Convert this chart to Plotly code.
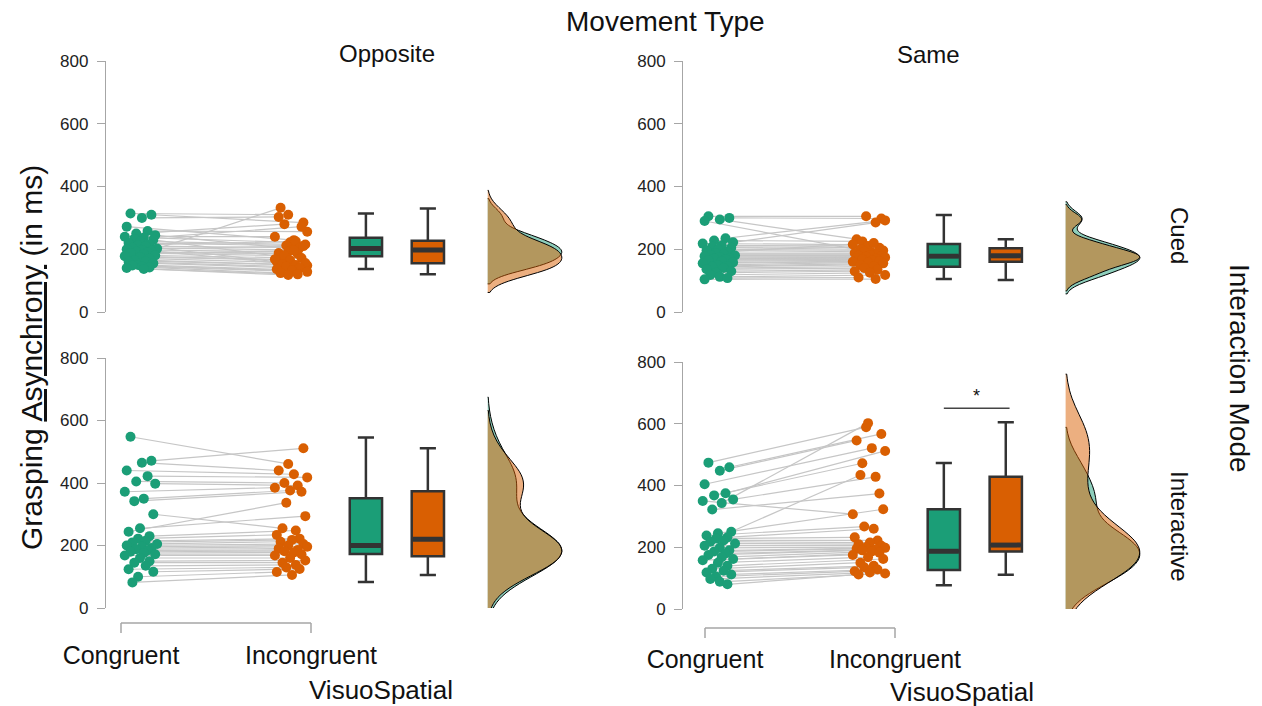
import plotly.graph_objects as go

# ---------------- data ----------------
CATEGORIES = ["Congruent", "Incongruent"]
MOVEMENT = ["Opposite", "Same"]
INTERACTION = ["Cued", "Interactive"]

# paired values (ms), same subject order within a panel
opp_cued_congruent = [314, 310, 300, 272, 258, 250, 245, 240, 237, 233, 230, 225, 220, 215, 212, 210,
                      205, 202, 200, 198, 195, 192, 190, 188, 185, 180, 178, 175, 170, 166, 162, 160,
                      155, 150, 148, 145, 142, 140, 137]
opp_cued_incongruent = [310, 285, 303, 229, 256, 280, 200, 240, 222, 272, 176, 215, 212, 225, 160, 205,
                        198, 332, 210, 192, 148, 188, 185, 180, 196, 172, 168, 165, 156, 152, 150, 145,
                        140, 136, 132, 128, 124, 120, 118]

same_cued_congruent = [305, 300, 295, 290, 235, 228, 222, 218, 212, 208, 205, 200, 196, 192, 188, 185,
                       182, 180, 178, 175, 172, 170, 168, 165, 162, 158, 155, 150, 147, 144, 140, 136,
                       130, 125, 118, 112, 108, 104]
same_cued_incongruent = [305, 298, 232, 190, 292, 225, 285, 215, 210, 205, 200, 196, 192, 220, 188, 185,
                         182, 180, 178, 176, 174, 172, 170, 168, 165, 162, 160, 158, 155, 150, 145, 140,
                         135, 130, 125, 118, 110, 105]

opp_inter_congruent = [548, 471, 465, 440, 422, 405, 398, 372, 350, 342, 300, 255, 244, 230, 222, 215,
                       210, 205, 200, 196, 192, 188, 184, 180, 176, 172, 168, 160, 150, 145, 135, 124,
                       116, 100, 82]
opp_inter_incongruent = [461, 511, 440, 428, 418, 400, 392, 385, 376, 372, 255, 294, 337, 248, 234, 222,
                         218, 212, 205, 200, 196, 190, 186, 182, 178, 172, 168, 160, 152, 145, 138, 130,
                         125, 115, 106]

same_inter_congruent = [474, 459, 448, 404, 375, 368, 355, 350, 343, 322, 250, 245, 238, 232, 228, 222,
                        218, 212, 205, 198, 190, 186, 180, 175, 168, 162, 158, 150, 140, 130, 124, 118,
                        112, 105, 97, 88, 80]
same_inter_incongruent = [589, 567, 546, 521, 512, 472, 428, 307, 602, 374, 434, 323, 267, 260, 232, 222,
                          215, 210, 205, 200, 198, 195, 192, 190, 186, 182, 175, 168, 162, 150, 140, 135,
                          128, 122, 118, 115, 112]

# box statistics [Congruent, Incongruent]
opp_cued_box = dict(lower=[137, 120], q1=[178, 155], med=[202, 198], q3=[237, 227], upper=[314, 330])
same_cued_box = dict(lower=[105, 102], q1=[144, 160], med=[178, 179], q3=[217, 203], upper=[309, 232])
opp_inter_box = dict(lower=[83, 106], q1=[173, 166], med=[200, 220], q3=[351, 374], upper=[546, 511])
same_inter_box = dict(lower=[77, 111], q1=[126, 186], med=[187, 207], q3=[323, 428], upper=[473, 605])

# fixed jitter offsets for the dots
jitter_congruent = [0.05, 0.16, 0.11, 0.03, 0.14, 0.08, 0.18, 0.02, 0.12, 0.07, 0.17, 0.10, 0.04, 0.15,
                    0.09, 0.13, 0.06, 0.19, 0.03, 0.11, 0.16, 0.08, 0.14, 0.05, 0.12, 0.18, 0.02, 0.10,
                    0.15, 0.07, 0.13, 0.04, 0.17, 0.09, 0.06, 0.11, 0.15, 0.03, 0.12, 0.08]
jitter_incongruent = [0.12, 0.04, 0.17, 0.09, 0.02, 0.14, 0.07, 0.19, 0.11, 0.05, 0.15, 0.03, 0.13, 0.08,
                      0.18, 0.06, 0.10, 0.16, 0.04, 0.12, 0.02, 0.17, 0.07, 0.14, 0.09, 0.05, 0.19, 0.11,
                      0.03, 0.15, 0.08, 0.13, 0.06, 0.18, 0.10, 0.02, 0.16, 0.07, 0.12, 0.04]

Y_TICKS = [0, 200, 400, 600, 800]

# ---------------- style ----------------
GREEN = "#1b9e77"
ORANGE = "#d95f02"
GREEN_FILL = "rgba(27,158,119,0.5)"
ORANGE_FILL = "rgba(217,95,2,0.5)"
FONT = "Liberation Sans, Arial, sans-serif"
AX_GREY = "#a6a6a6"
BOX_LINE = "#333333"

BOX_X = [2.289, 2.615]
BOX_W = 0.17
DENS_X = 2.93

panels = [
    dict(cong=opp_cued_congruent, inc=opp_cued_incongruent, box=opp_cued_box, ax="", shift=0.0),
    dict(cong=same_cued_congruent, inc=same_cued_incongruent, box=same_cued_box, ax="2", shift=-0.032),
    dict(cong=opp_inter_congruent, inc=opp_inter_incongruent, box=opp_inter_box, ax="3", shift=0.0),
    dict(cong=same_inter_congruent, inc=same_inter_incongruent, box=same_inter_box, ax="4", shift=-0.032),
]

fig = go.Figure()

for p in panels:
    xa = "x" + p["ax"]
    ya = "y" + p["ax"]
    s = p["shift"]
    n = len(p["cong"])
    xc = [1 + s + jitter_congruent[i] for i in range(n)]
    xi = [2 + s - jitter_incongruent[i] for i in range(n)]
    # connecting lines
    lx, ly = [], []
    for i in range(n):
        lx += [xc[i], xi[i], None]
        ly += [p["cong"][i], p["inc"][i], None]
    fig.add_trace(go.Scatter(x=lx, y=ly, mode="lines", xaxis=xa, yaxis=ya,
                             line=dict(color="#c6c6c6", width=1.2), hoverinfo="skip"))
    fig.add_trace(go.Scatter(x=xc, y=p["cong"], mode="markers", xaxis=xa, yaxis=ya,
                             marker=dict(color=GREEN, size=10, line=dict(width=0))))
    fig.add_trace(go.Scatter(x=xi, y=p["inc"], mode="markers", xaxis=xa, yaxis=ya,
                             marker=dict(color=ORANGE, size=10, line=dict(width=0))))
    # boxes
    b = p["box"]
    for k, col in enumerate([GREEN, ORANGE]):
        bx = BOX_X[k] + s
        fig.add_trace(go.Box(x=[bx], q1=[b["q1"][k]], median=[b["med"][k]], q3=[b["q3"][k]],
                             lowerfence=[b["lower"][k]], upperfence=[b["upper"][k]],
                             xaxis=xa, yaxis=ya, width=BOX_W, whiskerwidth=0.5,
                             fillcolor=col, line=dict(color=BOX_LINE, width=2.5),
                             boxpoints=False))
        # thick median bar
        fig.add_trace(go.Scatter(x=[bx - BOX_W / 2 + 0.006, bx + BOX_W / 2 - 0.006],
                                 y=[b["med"][k], b["med"][k]], mode="lines", xaxis=xa, yaxis=ya,
                                 line=dict(color=BOX_LINE, width=5), hoverinfo="skip"))
    # densities (half violins)
    for vals, fillc in [(p["cong"], GREEN_FILL), (p["inc"], ORANGE_FILL)]:
        fig.add_trace(go.Violin(y=vals, x0=DENS_X + s, xaxis=xa, yaxis=ya, side="positive",
                                width=0.78, scalegroup="g" + p["ax"], scalemode="width",
                                points=False, box_visible=False, meanline_visible=False,
                                fillcolor=fillc, line=dict(color="black", width=1),
                                opacity=1))

# significance marker (Same / Interactive)
SIG_SHIFT = -0.032
fig.add_trace(go.Scatter(x=[BOX_X[0] + SIG_SHIFT, BOX_X[1] + 0.02 + SIG_SHIFT], y=[650, 650], mode="lines",
                         xaxis="x4", yaxis="y4", line=dict(color="#444", width=1.5), hoverinfo="skip"))

PX_PER_UNIT = 190.0
X_SPAN = 2.45
# left panels: y-axis line at 105.8 px, category 1 at 121 px
# right panels: y-axis line at 683 px, category 1 at 705 px
x_cfg = {
    "": (105.8, 121.0), "3": (105.8, 121.0),
    "2": (683.0, 705.0), "4": (683.0, 705.0),
}
y_dom = {
    "": [1 - 312 / 706, 1 - 61 / 706],
    "2": [1 - 312 / 706, 1 - 61 / 706],
    "3": [1 - 608 / 706, 1 - 358 / 706],
    "4": [1 - 609 / 706, 1 - 362 / 706],
}
x_ticklen = {"": 25, "2": 25, "3": 25, "4": 28}

layout = dict(
    width=1262, height=706, margin=dict(l=0, r=0, t=0, b=0, autoexpand=False),
    paper_bgcolor="white", plot_bgcolor="white", showlegend=False,
    violinmode="overlay", boxmode="overlay",
    font=dict(family=FONT, color="#111"),
)
for a in ["", "2", "3", "4"]:
    bottom = a in ("3", "4")
    left_px, cat1_px = x_cfg[a]
    r0 = 1 - (cat1_px - left_px) / PX_PER_UNIT
    layout["xaxis" + a] = dict(
        domain=[left_px / 1262, (left_px + X_SPAN * PX_PER_UNIT) / 1262], range=[r0, r0 + X_SPAN],
        anchor="y" + a, showgrid=False, zeroline=False,
        showline=False, tickvals=[1, 2], ticktext=CATEGORIES, showticklabels=bottom,
        ticks="outside" if bottom else "", ticklen=x_ticklen[a], tickcolor="rgba(0,0,0,0)",
        tickfont=dict(size=25, color="#111", family=FONT), automargin=False,
    )
    layout["yaxis" + a] = dict(
        domain=y_dom[a], range=[0, 800], anchor="x" + a, tickvals=Y_TICKS,
        showgrid=False, zeroline=False, showline=True, linecolor=AX_GREY, linewidth=1,
        ticks="outside", ticklen=8, tickcolor=AX_GREY, ticklabelstandoff=5,
        tickfont=dict(size=17, color="#222", family=FONT), automargin=False,
    )
fig.update_layout(**layout)

# x brackets for bottom panels
for a, yb, yt in [("3", -0.06, -0.10), ("4", -0.077, -0.117)]:
    for (x0, x1, y0, y1) in [(1, 2, yb, yb), (1, 1, yb, yt), (2, 2, yb, yt)]:
        fig.add_shape(type="line", xref="x" + a, yref="y" + a + " domain", x0=x0, x1=x1, y0=y0, y1=y1,
                      line=dict(color=AX_GREY, width=1.5))

ann = []
# VisuoSpatial axis titles
ann.append(dict(text="VisuoSpatial", xref="x3", yref="y3 domain", x=2.37, y=-0.328, showarrow=False,
                font=dict(size=26), xanchor="center", yanchor="middle"))
ann.append(dict(text="VisuoSpatial", xref="x4", yref="y4 domain", x=2.35, y=-0.336, showarrow=False,
                font=dict(size=26), xanchor="center", yanchor="middle"))
# star
ann.append(dict(text="*", xref="x4", yref="y4", x=(BOX_X[0] + BOX_X[1]) / 2 + 0.01 + SIG_SHIFT, y=652,
                showarrow=False, font=dict(size=18), yanchor="bottom"))
# facet titles
ann.append(dict(text="Movement Type", xref="paper", yref="paper", x=665 / 1262, y=1 - 22 / 706,
                showarrow=False, font=dict(size=28), xanchor="center", yanchor="middle"))
ann.append(dict(text=MOVEMENT[0], xref="paper", yref="paper", x=387 / 1262, y=1 - 53 / 706,
                showarrow=False, font=dict(size=24), xanchor="center", yanchor="middle"))
ann.append(dict(text=MOVEMENT[1], xref="paper", yref="paper", x=929 / 1262, y=1 - 55 / 706,
                showarrow=False, font=dict(size=24), xanchor="center", yanchor="middle"))
ann.append(dict(text="Interaction Mode", xref="paper", yref="paper", x=1240 / 1262, y=1 - 368 / 706,
                showarrow=False, font=dict(size=28), textangle=90, xanchor="center", yanchor="middle"))
ann.append(dict(text=INTERACTION[0], xref="paper", yref="paper", x=1180 / 1262, y=1 - 235 / 706,
                showarrow=False, font=dict(size=24), textangle=90, xanchor="center", yanchor="middle"))
ann.append(dict(text=INTERACTION[1], xref="paper", yref="paper", x=1180 / 1262, y=1 - 526 / 706,
                showarrow=False, font=dict(size=24), textangle=90, xanchor="center", yanchor="middle"))
ann.append(dict(text="Grasping <u>Asynchrony</u> (in ms)", xref="paper", yref="paper", x=32 / 1262,
                y=1 - 358 / 706, showarrow=False, font=dict(size=30), textangle=-90,
                xanchor="center", yanchor="middle"))
fig.update_layout(annotations=ann)

fig.write_html("out.html", config={"displayModeBar": False},
               post_script="document.body.style.margin='0';document.body.style.overflow='hidden';")
